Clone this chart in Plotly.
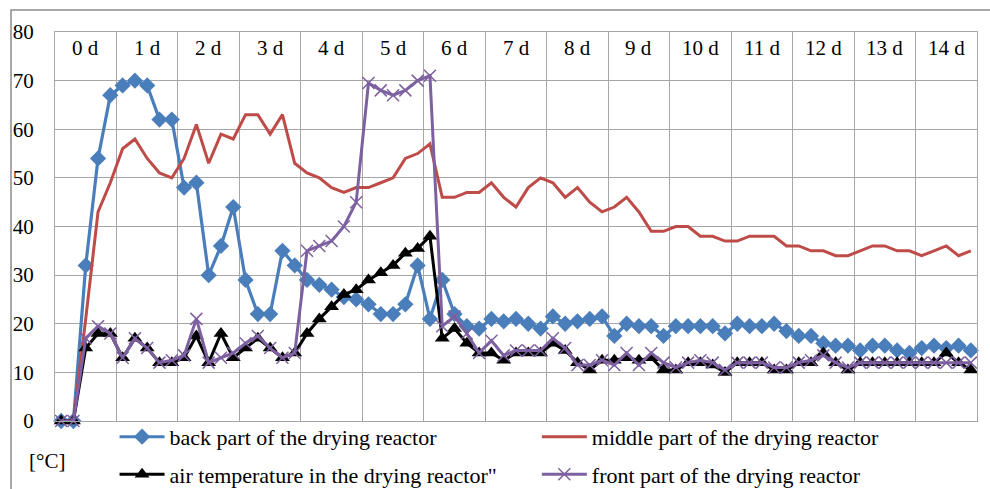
import plotly.graph_objects as go

# ---------------- data ----------------
days = [f"{d} d" for d in range(15)]
points_per_day = 5

back_part = [0, 0, 32, 54, 67, 69, 70, 69, 62, 62,
             48, 49, 30, 36, 44, 29, 22, 22, 35, 32,
             29, 28, 27, 25.5, 25, 24, 22, 22, 24, 32,
             21, 29, 22, 19.5, 19, 21, 20.5, 21, 20, 19,
             21.5, 20, 20.5, 21, 21.5, 17.5, 20, 19.5, 19.5, 17.5,
             19.5, 19.5, 19.5, 19.5, 18, 20, 19.5, 19.5, 20, 18.5,
             17.5, 17.5, 16, 15.5, 15.5, 14.5, 15.5, 15.5, 14.5, 14,
             15, 15.5, 15, 15.5, 14.5]

middle_part = [0, 0, 21, 43, 49, 56, 58, 54, 51, 50,
               54, 61, 53, 59, 58, 63, 63, 59, 63, 53,
               51, 50, 48, 47, 48, 48, 49, 50, 54, 55,
               57, 46, 46, 47, 47, 49, 46, 44, 48, 50,
               49, 46, 48, 45, 43, 44, 46, 43, 39, 39,
               40, 40, 38, 38, 37, 37, 38, 38, 38, 36,
               36, 35, 35, 34, 34, 35, 36, 36, 35, 35,
               34, 35, 36, 34, 35]

air_temp = [0, 0, 15, 18, 18, 13, 17, 15, 12, 12,
            13, 17.5, 12, 18, 13, 15, 17, 15, 13, 14,
            18, 21, 23.5, 26, 27, 29, 30.5, 32, 34.5, 35.5,
            38, 17, 19, 16, 14, 14, 12.5, 14, 14, 14,
            16, 14.5, 12, 10.5, 12.5, 12.5, 13, 12.5, 13, 10.5,
            10.5, 12, 12, 11.5, 10, 12, 12, 12, 10.5, 10.5,
            12, 12, 14, 12, 10.5, 12, 12, 12, 12, 12,
            12, 12, 14, 12, 10.5]

front_part = [0, 0, 17, 19.5, 18, 13, 17, 15, 12, 12.5,
              13.5, 21, 12, 13, 14, 16, 17.5, 15, 13, 14,
              35, 36, 37, 40, 45, 69.5, 68, 67, 68, 70,
              71, 19.5, 21.5, 18, 14, 16.5, 13.5, 14.5, 14.5, 14.5,
              17, 15, 11.5, 11.5, 12.5, 11.5, 14, 11.5, 14, 12,
              11, 12, 12.5, 12, 10.5, 12, 12, 12, 11, 11,
              12, 12.5, 13.5, 12, 11, 12, 12, 12, 12, 12,
              12, 12, 12, 12, 12]

series_names = ["back part of the drying reactor",
                "middle part of the drying reactor",
                "air temperature in the drying reactor\"",
                "front part of the drying reactor"]
y_ticks = [0, 10, 20, 30, 40, 50, 60, 70, 80]
unit_label = "[°C]"

# ---------------- figure ----------------
n = len(back_part)
xs = list(range(n))
FONT = "Liberation Serif, Times New Roman, serif"
BLUE = "#4A7EBB"
RED = "#BE4B48"
BLACK = "#000000"
PURPLE = "#7D60A0"

fig = go.Figure()

fig.add_trace(go.Scatter(
    x=xs, y=back_part, name=series_names[0], mode="lines+markers",
    line=dict(color=BLUE, width=3.2),
    marker=dict(symbol="diamond", size=12.5, color=BLUE),
    cliponaxis=False, legend="legend", legendgroup="a"))

fig.add_trace(go.Scatter(
    x=xs, y=middle_part, name=series_names[1], mode="lines",
    line=dict(color=RED, width=3),
    cliponaxis=False, legend="legend2", legendgroup="b"))

fig.add_trace(go.Scatter(
    x=xs, y=air_temp, name=series_names[2], mode="lines+markers",
    line=dict(color=BLACK, width=3),
    marker=dict(symbol="triangle-up", size=13, color=BLACK),
    cliponaxis=False, legend="legend", legendgroup="c"))

fig.add_trace(go.Scatter(
    x=xs, y=front_part, name=series_names[3], mode="lines+markers",
    line=dict(color=PURPLE, width=3),
    marker=dict(symbol="x-thin", size=12, color=PURPLE,
                line=dict(color=PURPLE, width=1.5)),
    cliponaxis=False, legend="legend2", legendgroup="d"))

# day labels at the top, centred in each day's block
for d, lab in enumerate(days):
    fig.add_annotation(x=d * points_per_day + (points_per_day - 1) / 2, y=76.7,
                       xref="x", yref="y", text=lab, showarrow=False,
                       font=dict(family=FONT, size=21, color="black"))

fig.add_annotation(x=-0.03, y=-0.138, xref="paper", yref="paper",
                   text=unit_label, showarrow=False, xanchor="left",
                   font=dict(family=FONT, size=21, color="black"))

GRID = "#A6A6A6"
day_bounds = [d * points_per_day - 0.5 for d in range(1, 15)]

fig.update_layout(
    width=990, height=489,
    margin=dict(l=55, r=13, t=32, b=68, autoexpand=False),
    paper_bgcolor="white", plot_bgcolor="white",
    font=dict(family=FONT, size=21, color="black"),
    xaxis=dict(range=[-0.5, n - 0.5], tickvals=day_bounds, showticklabels=False,
               showgrid=True, gridcolor=GRID, gridwidth=1.3,
               showline=True, linecolor=GRID, linewidth=1.3, mirror=True,
               ticks="", zeroline=False, fixedrange=True),
    yaxis=dict(range=[0, 80], tickvals=y_ticks, showgrid=True,
               gridcolor=GRID, gridwidth=1.3,
               showline=True, linecolor=GRID, linewidth=1.3, mirror=True,
               ticks="", ticklabelstandoff=16, zeroline=False,
               tickfont=dict(family=FONT, size=21, color="black")),
    legend=dict(x=0.0646, y=0.013, xanchor="left", yanchor="top",
                orientation="v", bgcolor="rgba(0,0,0,0)", itemwidth=45,
                tracegroupgap=6, font=dict(family=FONT, size=22, color="black")),
    legend2=dict(x=0.5226, y=0.013, xanchor="left", yanchor="top",
                 orientation="v", bgcolor="rgba(0,0,0,0)", itemwidth=45,
                 tracegroupgap=6, font=dict(family=FONT, size=22, color="black")),
    showlegend=True,
    shapes=[
        dict(type="rect", xref="paper", yref="paper", layer="above",
             x0=(11 - 55) / 922, x1=(1000 - 55) / 922,
             y0=(421 - 500) / 389, y1=(421 - 10) / 389,
             fillcolor="rgba(0,0,0,0)",
             line=dict(color="#8C8C8C", width=1.5)),
    ],
)

fig.write_html("out.html", config={"displayModeBar": False},
               post_script="document.body.style.margin='0px';document.body.style.overflow='hidden';")
